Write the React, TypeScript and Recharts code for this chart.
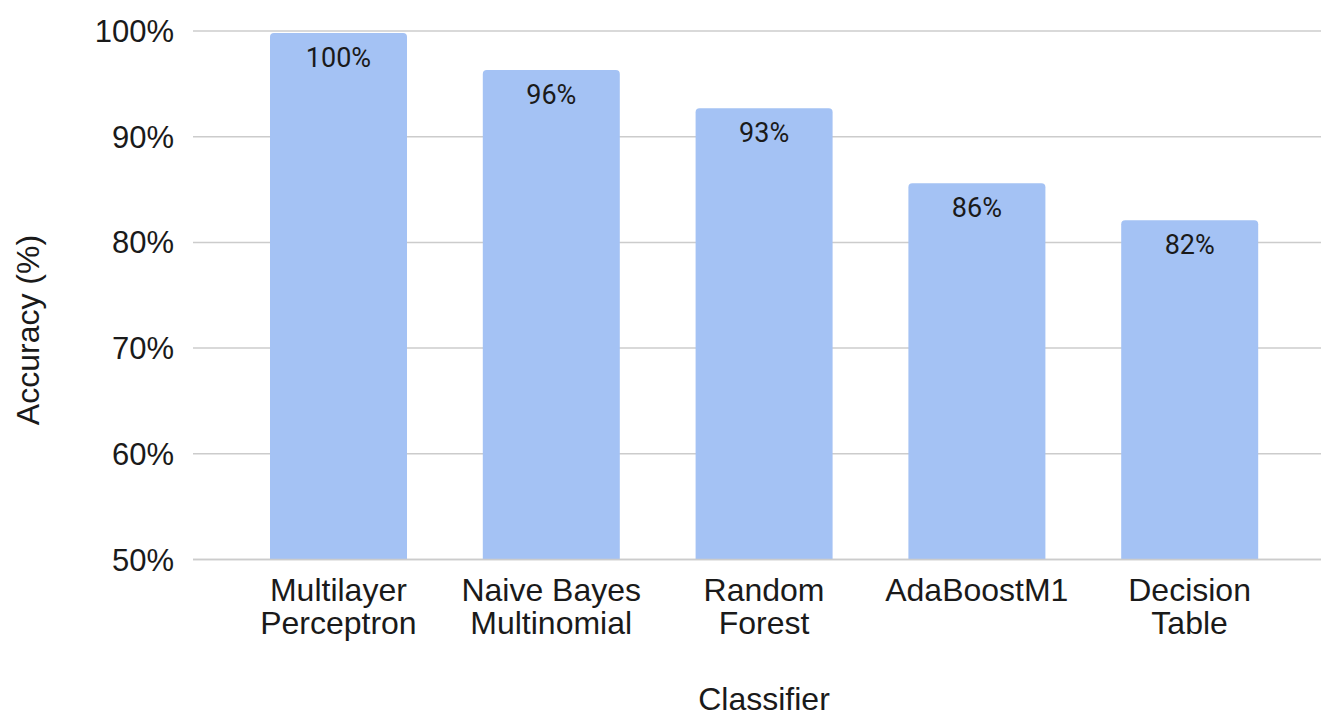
import { BarChart, Bar, XAxis, YAxis, CartesianGrid, LabelList } from "recharts";

const classifiers = [
  "Multilayer Perceptron",
  "Naive Bayes Multinomial",
  "Random Forest",
  "AdaBoostM1",
  "Decision Table",
];
const accuracy = [99.8, 96.3, 92.7, 85.6, 82.1];
const yTicks = [50, 60, 70, 80, 90, 100];

const data = classifiers.map((name, i) => ({ name, accuracy: accuracy[i] }));

const AXIS_FONT = "'Liberation Sans', Arial, Helvetica, sans-serif";
const TEXT = "#1a1a1a";
const BAR = "#a4c2f4";
const GRID = "#cccccc";
const PAD_L = 39;
const PAD_R = 25;

// two-line category labels, broken at the last space
function CategoryTick(props: any) {
  const { x, y, payload } = props;
  const s: string = payload.value;
  const cut = s.lastIndexOf(" ");
  const lines = cut > 0 ? [s.slice(0, cut), s.slice(cut + 1)] : [s];
  return (
    <text x={x} y={y} textAnchor="middle" fill={TEXT} fontSize={32} fontFamily={AXIS_FONT}>
      {lines.map((l, i) => (
        <tspan key={i} x={x} dy={33}>{l}</tspan>
      ))}
    </text>
  );
}

export default function App() {
  return (
    <div style={{ position: "absolute", left: 0, top: 0, background: "#fff" }}>
      <BarChart
        width={1321}
        height={720}
        data={data}
        margin={{ top: 31, right: 0, left: 0, bottom: 0 }}
      >
        <CartesianGrid vertical={false} stroke={GRID} strokeWidth={1.5} />
        <XAxis
          dataKey="name"
          height={160.5}
          padding={{ left: PAD_L, right: PAD_R }}
          axisLine={{ stroke: GRID, strokeWidth: 1.5 }}
          tickLine={false}
          interval={0}
          tick={<CategoryTick />}
          label={(p: any) => {
            const vb = p.viewBox;
            return (
              <text
                x={vb.x + PAD_L + (vb.width - PAD_L - PAD_R) / 2}
                y={710}
                textAnchor="middle"
                fill={TEXT}
                fontSize={32}
                fontFamily={AXIS_FONT}
              >
                Classifier
              </text>
            );
          }}
        />
        <YAxis
          width={193}
          domain={[50, 100]}
          ticks={yTicks}
          allowDataOverflow
          axisLine={false}
          tickLine={false}
          tickSize={6}
          tickMargin={13}
          tickFormatter={(v) => `${v}%`}
          tick={{ fill: TEXT, fontSize: 31, fontFamily: AXIS_FONT }}
          label={() => (
            <text
              transform="rotate(-90, 28, 330)"
              x={28}
              y={330}
              textAnchor="middle"
              dominantBaseline="central"
              fill={TEXT}
              fontSize={32}
              fontFamily={AXIS_FONT}
            >
              Accuracy (%)
            </text>
          )}
        />
        <Bar dataKey="accuracy" fill={BAR} barSize={137} radius={[4, 4, 0, 0]} isAnimationActive={false}>
          <LabelList
            dataKey="accuracy"
            position="insideTop"
            offset={15}
            formatter={(v: any) => `${Math.round(Number(v))}%`}
            fill={TEXT}
            fontSize={27}
            fontFamily="Roboto, sans-serif"
          />
        </Bar>
      </BarChart>
    </div>
  );
}
